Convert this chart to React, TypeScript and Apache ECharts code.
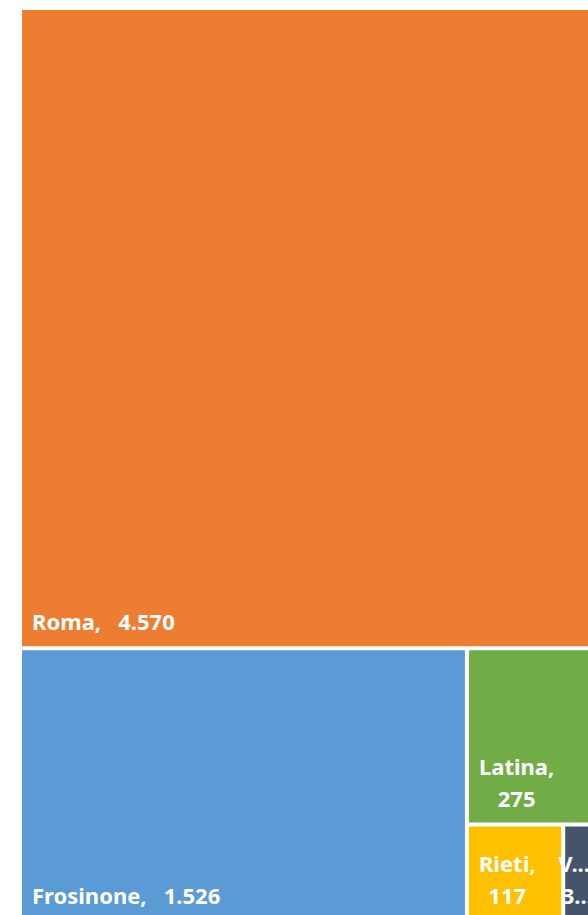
import React, { useEffect, useRef } from "react";
import * as echarts from "echarts";

const categories = ["Roma", "Frosinone", "Latina", "Rieti", "Viterbo"];
const values = [4570, 1526, 275, 117, 35];
const colors = ["#ED7D31", "#5B9BD5", "#70AD47", "#FFC000", "#44546A"];
// label on two lines for the narrow tiles
const twoLineLabel = [false, false, true, true, true];
// tiles too narrow: label cut with an ellipsis
const cutLabel = [false, false, false, false, true];

function fmt(v: number): string {
  return String(v).replace(/\B(?=(\d{3})+(?!\d))/g, ".");
}

function labelText(name: string, value: number, i: number): string {
  let n = name;
  let v = fmt(value);
  if (cutLabel[i]) {
    n = n.slice(0, 1) + "...";
    v = v.slice(0, 1) + "...";
  }
  return twoLineLabel[i] ? `{a|${n},}\n{a|${v}}` : `{a|${n},   ${v}}`;
}

const rich = {
  a: {
    align: "center",
    fill: "#ffffff",
    fontFamily: "Noto Sans",
    fontWeight: "bold",
    fontSize: 22,
    lineHeight: 32,
  },
};

export default function App() {
  const ref = useRef<HTMLDivElement>(null);
  useEffect(() => {
    if (!ref.current) return;
    const chart = echarts.init(ref.current, null, { renderer: "svg" });
    const data = categories.map((name, i) => ({
      name,
      value: values[i],
      itemStyle: { color: colors[i] },
    }));
    chart.setOption({
      animation: false,
      tooltip: { show: false },
      series: [
        {
          type: "treemap",
          left: 22,
          top: 10,
          width: 568,
          height: 910,
          roam: false,
          nodeClick: false,
          breadcrumb: { show: false },
          itemStyle: { borderWidth: 0, gapWidth: 4 },
          levels: [{ itemStyle: { borderWidth: 0, gapWidth: 4 } }],
          label: { show: false },
          data,
        },
      ],
    });

    // labels at the bottom-left of each tile, placed from the treemap's own layout
    const model: any = (chart as any).getModel();
    const series = model.getSeriesByIndex(0);
    const tree = series.getData().tree;
    const root = tree.root;
    const li = series.layoutInfo || { x: 22, y: 10 };
    const rl = root.getLayout() || { x: 0, y: 0 };
    const texts: any[] = [];
    root.children.forEach((node: any) => {
      const l = node.getLayout();
      if (!l) return;
      const i = categories.indexOf(node.name);
      const x = li.x + (rl.x || 0) + l.x;
      const y = li.y + (rl.y || 0) + l.y;
      texts.push({
        type: "text",
        z: 100,
        silent: true,
        x: x + (cutLabel[i] ? -7 : 10),
        y: y + l.height - 9,
        style: {
          text: labelText(node.name, node.getValue(), i),
          align: "left",
          verticalAlign: "bottom",
          rich,
          fill: "#ffffff",
          font: "bold 22px 'Noto Sans'",
        },
      });
    });
    chart.setOption({ graphic: texts });
    return () => chart.dispose();
  }, []);
  return (
    <div style={{ position: "fixed", left: 0, top: 0, width: 588, height: 915, overflow: "hidden", background: "#fff" }}>
      <div ref={ref} style={{ position: "absolute", left: 0, top: 0, width: 620, height: 940 }} />
    </div>
  );
}
